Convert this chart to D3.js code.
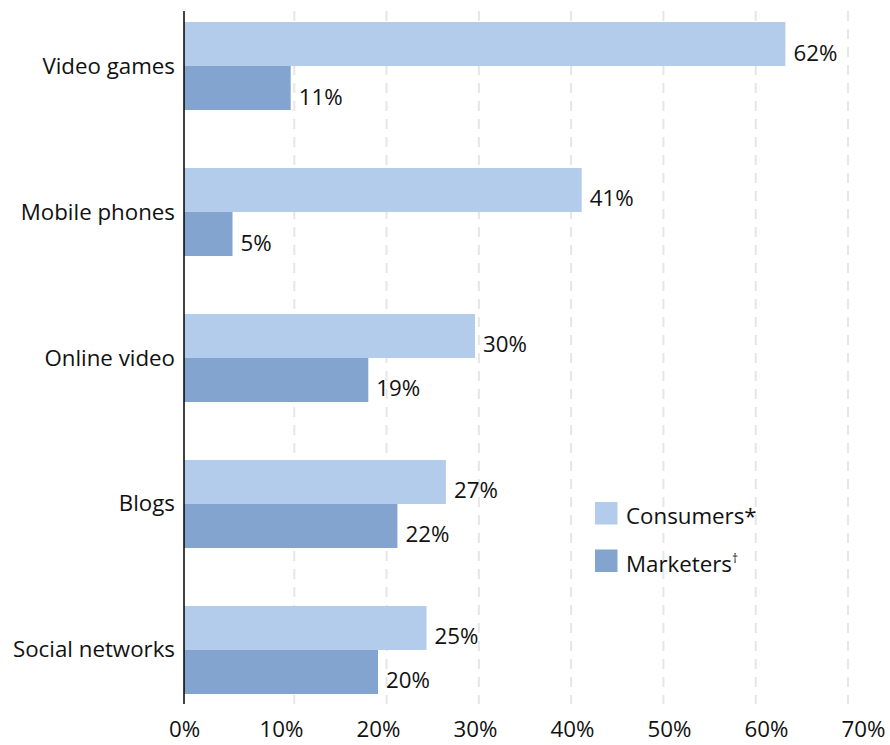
<!DOCTYPE html>
<html>
<head>
<meta charset="utf-8">
<script src="https://cdn.jsdelivr.net/npm/d3@7"></script>
<style>
  html, body { margin: 0; padding: 0; background: #fff; }
  svg { display: block; }
  text { font-family: "Open Sans", "Noto Sans", sans-serif; fill: #111; }
</style>
</head>
<body>
<svg id="chart" width="890" height="745"></svg>
<script>
const categories = ["Video games", "Mobile phones", "Online video", "Blogs", "Social networks"];
const consumers = [62, 41, 30, 27, 25];
const marketers = [11, 5, 19, 22, 20];
const seriesNames = ["Consumers*", "Marketers"];
const tickValues = [0, 10, 20, 30, 40, 50, 60, 70];
const tickLabels = ["0%", "10%", "20%", "30%", "40%", "50%", "60%", "70%"];

const colors = ["#b3cceb", "#83a4cf"];
const svg = d3.select("#chart");
const fs = 22.3;

const x = d3.scaleLinear().domain([0, 70]).range([184, 863]);
const xGrid = d3.scaleLinear().domain([0, 70]).range([202, 848]);
const y = d3.scaleBand().domain(categories).range([22, 694]).paddingInner(0.397).paddingOuter(0);
const sub = d3.scaleBand().domain([0, 1]).range([0, y.bandwidth()]);

// gridlines
svg.append("g").selectAll("line")
  .data(tickValues.filter(d => d > 0))
  .join("line")
  .attr("x1", d => xGrid(d)).attr("x2", d => xGrid(d))
  .attr("y1", 11).attr("y2", 704)
  .attr("stroke", "#e6e6e6").attr("stroke-width", 2)
  .attr("stroke-dasharray", "10,8");

// bars
const rows = categories.map((c, i) => ({c, vals: [consumers[i], marketers[i]]}));
const g = svg.append("g").selectAll("g").data(rows).join("g")
  .attr("transform", d => `translate(0,${y(d.c)})`);
g.selectAll("rect").data(d => d.vals).join("rect")
  .attr("x", x(0))
  .attr("y", (d, i) => sub(i))
  .attr("width", d => x(d) - x(0))
  .attr("height", sub.bandwidth())
  .attr("fill", (d, i) => colors[i]);
g.selectAll("text.val").data(d => d.vals).join("text")
  .attr("class", "val")
  .attr("x", d => x(d) + 8)
  .attr("y", (d, i) => sub(i) + sub.bandwidth() / 2 + 16.5)
  .attr("font-size", fs)
  .text(d => d + "%");

// category labels
svg.append("g").selectAll("text").data(categories).join("text")
  .attr("x", 175)
  .attr("y", d => y(d) + y.bandwidth() / 2 + 7.5)
  .attr("text-anchor", "end")
  .attr("font-size", fs)
  .text(d => d);

// axis line
svg.append("line")
  .attr("x1", x(0)).attr("x2", x(0)).attr("y1", 11).attr("y2", 704)
  .attr("stroke", "#000").attr("stroke-width", 1.5);

// x tick labels
const xAxis = d3.axisBottom(x).tickValues(tickValues).tickFormat((d, i) => tickLabels[i]).tickSize(0).tickPadding(0);
const ax = svg.append("g").attr("transform", "translate(0,720)").call(xAxis);
ax.select(".domain").remove();
ax.selectAll("text").attr("font-size", fs).attr("font-family", "\"Open Sans\", sans-serif").attr("fill", "#111").attr("dy", 0).attr("y", 17);

// legend
const leg = svg.append("g");
seriesNames.forEach((name, i) => {
  const yy = 502 + i * 47.5;
  leg.append("rect").attr("x", 595).attr("y", yy).attr("width", 22.5).attr("height", 22.5).attr("fill", colors[i]);
  const t = leg.append("text").attr("x", 626).attr("y", yy + 22).attr("font-size", fs).text(name);
  if (i === 1) t.append("tspan").attr("font-size", 12).attr("dy", -9).text("†");
});
</script>
</body>
</html>
